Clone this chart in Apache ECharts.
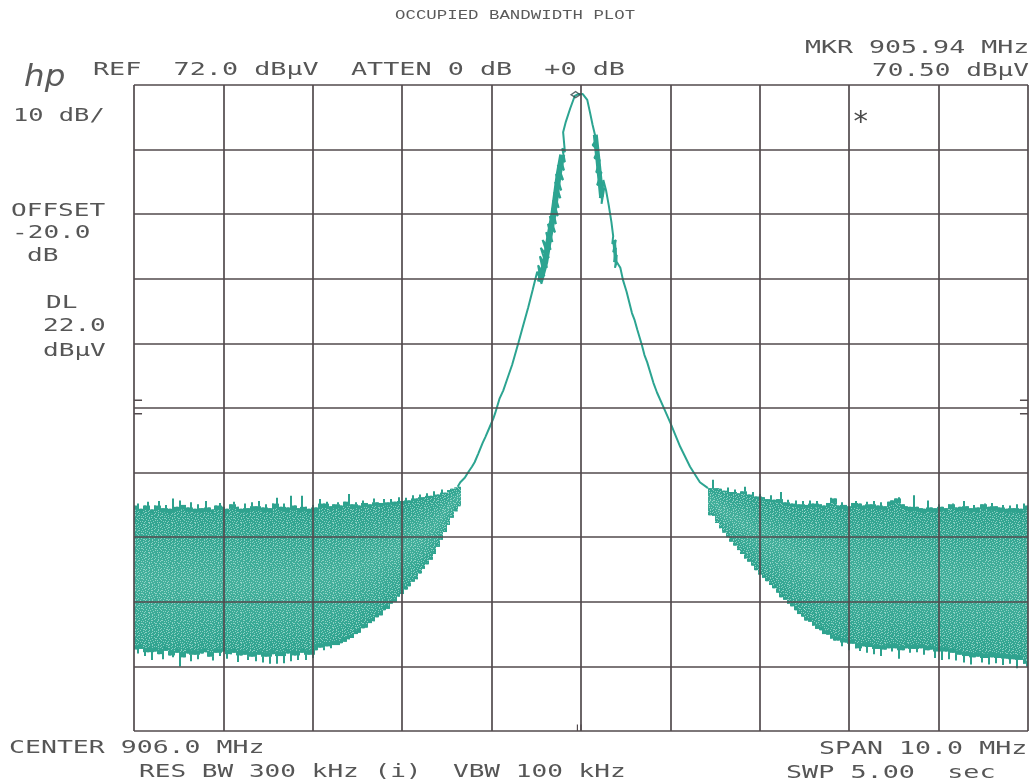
<!DOCTYPE html>
<html><head><meta charset="utf-8">
<style>html,body{margin:0;padding:0;background:#fff}#c{width:1035px;height:784px}</style>
<script src="https://cdn.jsdelivr.net/npm/echarts@6/dist/echarts.min.js"></script>
</head><body><div id="c"></div>
<script>
// Noise band, left skirt: one sample every 0.04 MHz starting at 901.00 MHz (dBuV)
const leftStart = 901.00, sampleStep = 0.04;
const leftUpper = [6.9,7.2,6.4,6.9,7.5,6.3,6.9,7.6,6.5,7.0,6.4,
  8.0,6.7,7.7,7.0,6.6,7.4,6.4,7.1,6.5,7.6,
  6.6,6.3,6.9,7.3,6.7,6.4,7.1,7.5,6.7,6.4,
  7.2,6.5,7.4,6.8,7.6,6.6,7.1,6.5,7.2,8.1,
  6.7,7.2,6.6,8.4,6.9,6.5,8.4,6.7,6.4,7.0,
  6.6,7.9,7.2,7.5,6.8,7.1,7.4,6.9,7.5,8.7,
  7.1,7.4,6.9,7.7,7.3,7.1,8.0,7.4,7.3,7.9,
  7.4,7.9,7.5,8.2,7.6,8.1,7.7,8.5,8.0,8.6,
  8.2,8.8,8.4,9.1,8.6,9.4,8.9,9.3,9.5,9.7,9.8];
const leftLower = [-15.4,-16.0,-15.3,-16.4,-15.8,-17.0,-15.7,-16.1,-16.9,-15.6,-16.3,
  -16.6,-15.9,-18.0,-16.6,-16.0,-17.2,-16.2,-16.9,-16.0,-15.8,
  -16.5,-17.1,-15.9,-16.4,-15.7,-16.8,-16.1,-15.9,-17.3,-16.3,
  -16.2,-17.0,-16.5,-17.2,-16.2,-17.4,-16.5,-17.6,-16.1,-17.6,
  -16.4,-17.5,-16.0,-17.2,-16.3,-17.0,-15.9,-17.0,-16.2,-16.7,
  -15.5,-15.1,-15.5,-14.9,-15.2,-14.7,-14.7,-14.4,-14.2,-13.8,
  -13.6,-13.0,-12.8,-12.1,-12.0,-11.3,-11.0,-10.4,-10.1,-9.3,
  -9.1,-8.3,-8.0,-7.2,-6.8,-6.1,-5.6,-4.9,-4.5,-3.6,
  -2.9,-2.2,-1.5,-0.6,0.5,1.6,2.8,3.9,5.0,6.0,6.8];
// Noise band, right skirt: one sample every 0.04 MHz starting at 907.44 MHz (dBuV)
const rightStart = 907.44;
const rightUpper = [9.6,10.9,9.6,9.5,9.2,9.7,9.0,9.4,8.8,9.1,
  9.8,8.6,9.0,8.3,8.7,8.2,7.9,8.5,7.8,7.9,
  9.0,7.4,7.8,7.2,7.7,7.1,7.6,7.0,7.7,7.2,
  7.6,7.1,6.9,7.3,8.1,8.0,6.9,7.4,7.0,6.8,
  7.3,7.6,7.2,6.9,7.5,7.1,7.6,6.9,7.4,6.8,
  7.5,7.7,8.0,8.2,7.1,6.8,6.7,8.5,6.7,6.5,
  6.4,7.7,6.6,6.5,7.1,6.7,6.5,7.1,7.2,6.6,
  6.7,7.6,6.8,6.5,7.0,6.6,7.1,7.2,6.7,7.3,
  6.8,6.6,7.0,6.4,6.9,6.5,7.1,6.4,7.2,6.9];
const rightLower = [5.4,5.3,4.2,3.4,2.7,2.0,1.3,0.7,0.0,-0.6,
  -1.3,-1.8,-2.4,-3.1,-3.8,-4.3,-4.8,-5.4,-5.9,-6.6,
  -7.3,-7.7,-8.3,-8.7,-9.3,-9.9,-10.3,-10.9,-11.1,-11.7,
  -12.2,-12.4,-13.0,-13.1,-13.7,-14.0,-14.0,-14.9,-14.3,-15.5,
  -14.5,-15.2,-15.6,-14.9,-15.9,-15.0,-16.1,-15.3,-16.4,-15.4,
  -15.2,-15.7,-15.2,-16.8,-15.5,-15.2,-15.9,-15.3,-15.8,-15.2,
  -16.2,-15.5,-15.4,-16.7,-15.7,-17.0,-15.7,-16.9,-15.9,-17.1,
  -16.2,-17.4,-16.4,-17.7,-16.6,-16.5,-17.4,-16.7,-17.7,-16.6,
  -17.5,-16.7,-17.8,-16.8,-17.6,-16.9,-18.3,-17.0,-17.6,-18.0];
// Carrier trace as plotted (pen doubles back where the trace is thick)
const traceFreq = [904.62,904.65,904.70,904.74,904.78,904.81,904.85,904.90,904.93,904.98,905.02,905.04,905.09,905.13,905.17,905.23,905.30,905.34,905.41,905.46,905.51,
  905.56,905.52,905.59,905.54,905.62,905.55,905.64,905.57,905.66,905.61,905.68,905.63,905.71,905.65,905.72,905.68,905.74,905.69,905.75,905.70,905.77,905.71,905.78,905.72,905.80,905.74,905.81,905.77,905.82,905.79,905.82,905.80,905.83,905.88,905.93,905.97,
  906.02,906.07,906.10,906.13,906.17,906.13,906.19,906.15,906.21,906.17,906.23,906.18,906.25,906.21,906.26,906.23,906.25,906.28,906.31,906.34,906.36,906.35,906.39,906.36,906.39,906.37,906.40,906.38,906.40,906.44,906.47,906.51,906.57,906.60,906.63,906.68,906.71,906.74,906.81,906.85,906.92,907.00,907.05,907.11,907.22,907.33,907.42];
const traceDb = [9.8,10.5,11.2,12.1,12.9,13.6,14.9,16.6,17.5,19.1,20.4,21.2,23.5,24.7,26.3,28.7,32.1,34.1,37.6,40.3,43.1,
  41.2,44.1,42.4,45.5,43.7,46.8,45.2,48.0,46.5,49.2,47.7,50.5,49.2,51.7,50.5,53.0,51.7,54.2,53.0,55.4,54.5,57.0,55.7,58.2,57.3,59.6,58.8,60.7,60.1,62.2,61.6,64.7,66.3,68.4,70.3,70.6,
  70.6,69.7,67.8,65.8,63.5,62.7,61.9,60.7,60.4,58.5,58.5,56.5,57.0,54.5,56.1,53.6,57.3,55.7,53.4,50.8,48.6,47.4,48.0,46.1,46.8,44.6,45.7,43.7,44.6,43.7,41.8,40.0,36.7,35.6,34.1,31.8,30.2,29.1,25.9,24.4,22.2,19.7,18.0,16.0,12.9,10.5,9.6];
// Where the swept trace smears into a solid stripe
const smearLeft = [[905.54,41.5],[905.60,44.6],[905.64,48.0],[905.69,51.9],[905.72,55.0],[905.75,58.1],[905.79,61.2]];
const smearRightUpper = [[906.16,64.3],[906.19,60.4],[906.21,57.6],[906.23,54.7]];
const smearRightLower = [[906.37,48.0],[906.39,44.6]];
const markerPoint = [905.94, 70.5];
const displayLineTicks = [[901,23.2],[901.09,23.2],null,[901,21.1],[901.09,21.1],null,[910.91,23.2],[911,23.2],null,[910.91,21.1],[911,21.1]];
const centerTicks = [[905.96,-28],[905.96,-27],null,[906.0,-28],[906.0,-27]];
const labelsHp = [
  {t:'REF  72.0 dBµV  ATTEN 0 dB  +0 dB', x:93, y:70.5, s:1.53},
  {t:'MKR 905.94 MHz', x:805, y:48.5, s:1.52},
  {t:'70.50 dBµV', x:872, y:71.5, s:1.49},
  {t:'10 dB/', x:13, y:116.5, s:1.45},
  {t:'OFFSET', x:11, y:211.5, s:1.49},
  {t:'-20.0', x:12, y:233.5, s:1.49},
  {t:'dB', x:27, y:256.5, s:1.49},
  {t:'DL', x:46, y:303.5, s:1.49},
  {t:'22.0', x:43, y:326.5, s:1.49},
  {t:'dBµV', x:43, y:351.5, s:1.49},
  {t:'CENTER 906.0 MHz', x:9, y:748.5, s:1.515},
  {t:'RES BW 300 kHz (i)  VBW 100 kHz', x:139, y:772.5, s:1.49},
  {t:'SPAN 10.0 MHz', x:819, y:749.5, s:1.52},
  {t:'SWP 5.00  sec', x:786, y:773.5, s:1.53}
];

// each sample: freq, lower, upper, then the solid core (spikes above both neighbours are drawn thin)
function samples(start, lower, upper){
  return upper.map((u,i)=>{
    const uN = Math.max(upper[i-1]===undefined?u:upper[i-1], upper[i+1]===undefined?u:upper[i+1]);
    const lN = Math.min(lower[i-1]===undefined?lower[i]:lower[i-1], lower[i+1]===undefined?lower[i]:lower[i+1]);
    return [start+i*sampleStep, lower[i], u, lN>lower[i]?lN:lower[i], uN<u?uN:u];
  });
}
const bandSamples = samples(leftStart,leftLower,leftUpper).concat(samples(rightStart,rightLower,rightUpper));

// fine speckle tile for the printed dither of the noise band
const tile = [
 '..o....o...o..o.....o..',
 'o....o....o.....o.o....',
 '...o...oo.....o.....o.o',
 '.o....o....o.o...o.....',
 '....o.....o.....o...o..',
 'oo.....o.....oo.....o..',
 '...o.o...o.........o..o',
 '.......o...o.o..o......',
 '.o.oo......o.....oo..o.',
 '.....o..o.....o.......o',
 'o.........o.o....o.o...',
 '..o.o..o.......o.......',
 '......o...oo.o.....o.o.',
 'o..o.......o....o......',
 '.....oo.o.....o.....o.o'
];
const cv = document.createElement('canvas');
cv.width = tile[0].length; cv.height = tile.length;
const cx = cv.getContext('2d');
cx.fillStyle = 'rgba(224,246,240,0.5)';
tile.forEach((r,y)=>{for(let x=0;x<r.length;x++) if(r[x]==='o') cx.fillRect(x,y,1,1);});

const gridColor = '#524a4d';
const teal = '#2ca491';
const chart = echarts.init(document.getElementById('c'), null, {renderer:'canvas'});
const bandFill = {type:'linear',x:0,y:0,x2:0,y2:1,colorStops:[
  {offset:0,color:'#2ea28e'},{offset:0.2,color:'#36a894'},{offset:0.5,color:'#44b09c'},{offset:0.85,color:'#36a894'},{offset:1,color:'#2ea28e'}]};
function cell(api){
  const f = api.value(0);
  const xc = api.coord([f, 0])[0];
  const w = api.size([sampleStep,0])[0];
  const xa = Math.round(xc-w/2), xb = Math.round(xc+w/2);
  return {xc, xa, xb,
    hi: api.coord([f, api.value(2)])[1], lo: api.coord([f, api.value(1)])[1],
    cHi: api.coord([f, api.value(4)])[1], cLo: api.coord([f, api.value(3)])[1]};
}
function renderBand(p, api){
  const c = cell(api);
  const sx = Math.round(c.xc)-1, spike = '#2ca18d';
  return {type:'group',children:[
    {type:'rect',shape:{x:c.xa,y:c.cHi,width:c.xb-c.xa,height:c.cLo-c.cHi},style:{fill:bandFill}},
    {type:'rect',shape:{x:sx,y:c.hi,width:2,height:c.cHi-c.hi+0.5},style:{fill:spike}},
    {type:'rect',shape:{x:sx,y:c.cLo-0.5,width:2,height:c.lo-c.cLo+0.5},style:{fill:spike}}
  ]};
}
function renderSpeckle(p, api){
  const c = cell(api);
  const inset = (c.cLo-c.cHi)*0.03;
  return {type:'rect',shape:{x:c.xa,y:c.cHi+inset,width:c.xb-c.xa,height:c.cLo-c.cHi-2*inset},style:{fill:{image:cv,repeat:'repeat'}}};
}
chart.setOption({
  animation:false,
  backgroundColor:'#ffffff',
  grid:{left:134,top:85,width:894,height:646,show:false},
  xAxis:{type:'value',min:901,max:911,interval:1,z:5,
    axisLine:{show:false},axisTick:{show:false},axisLabel:{show:false},
    splitLine:{show:true,lineStyle:{color:gridColor,width:1.7}}},
  yAxis:{type:'value',min:-28,max:72,interval:10,z:5,
    axisLine:{show:false},axisTick:{show:false},axisLabel:{show:false},
    splitLine:{show:true,lineStyle:{color:gridColor,width:1.7}}},
  series:[
    {type:'custom',z:2,silent:true,clip:true,data:bandSamples,encode:{x:0,y:[1,2]},renderItem:renderBand},
    {type:'custom',z:3,silent:true,clip:true,data:bandSamples,encode:{x:0,y:[1,2]},renderItem:renderSpeckle},
    {type:'line',z:4,silent:true,symbol:'none',data:traceFreq.map((f,i)=>[f,traceDb[i]]),
     lineStyle:{color:teal,width:2}},
    {type:'line',z:4,silent:true,symbol:'none',data:smearLeft,lineStyle:{color:teal,width:6}},
    {type:'line',z:4,silent:true,symbol:'none',data:smearRightUpper,lineStyle:{color:teal,width:5}},
    {type:'line',z:4,silent:true,symbol:'none',data:smearRightLower,lineStyle:{color:teal,width:3.5}},
    {type:'line',z:6,silent:true,symbol:'none',connectNulls:false,data:displayLineTicks,lineStyle:{color:gridColor,width:1.5}},
    {type:'line',z:6,silent:true,symbol:'none',connectNulls:false,data:centerTicks,lineStyle:{color:gridColor,width:1.2}},
    {type:'scatter',z:7,silent:true,data:[markerPoint],symbol:'diamond',symbolSize:[9,6],
     itemStyle:{color:'rgba(0,0,0,0)',borderColor:'#33474a',borderWidth:1.5}}
  ],
  graphic:{elements:[
    {type:'text',z:10,x:395,y:16,scaleX:1.45,style:{text:'OCCUPIED BANDWIDTH PLOT',font:'12px "Liberation Mono"',fill:'#5a5a5a',textVerticalAlign:'middle'}},
    {type:'text',z:10,x:24,y:78,scaleX:1.05,style:{text:'hp',font:'italic 200 31px "DejaVu Sans"',fill:'#5a5a5a',textVerticalAlign:'middle'}},
    {type:'text',z:10,x:852,y:123,style:{text:'*',font:'29px "DejaVu Sans Mono"',fill:'#4a4a4a',textVerticalAlign:'middle'}}
  ].concat(labelsHp.map(l=>({type:'text',z:10,x:l.x,y:l.y,scaleX:l.s,
    style:{text:l.t,font:'17.5px "DejaVu Sans Mono"',fill:'#565656',textVerticalAlign:'middle'}})))}
});
</script></body></html>
